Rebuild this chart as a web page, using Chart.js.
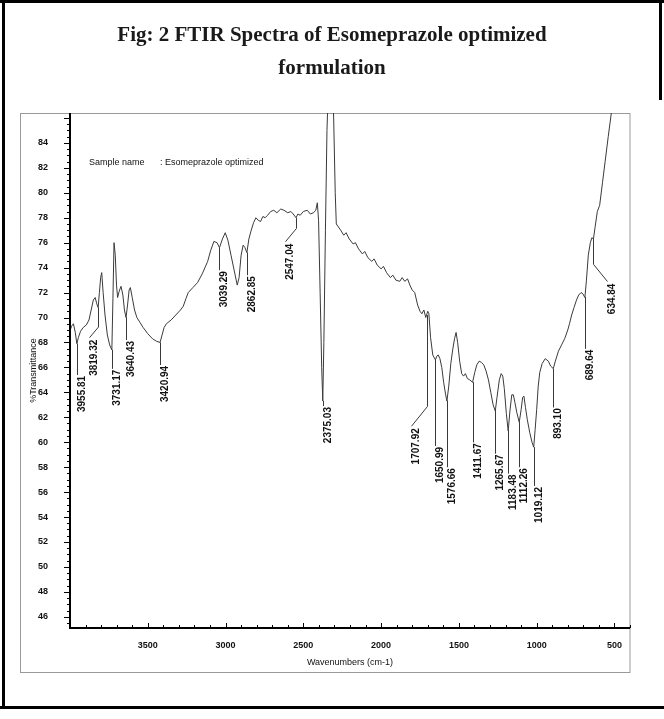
<!DOCTYPE html>
<html>
<head>
<meta charset="utf-8">
<script src="https://cdn.jsdelivr.net/npm/chart.js@4.4.1/dist/chart.umd.min.js"></script>
<style>
  html, body { margin: 0; padding: 0; background: #fff; }
  #page { position: relative; width: 664px; height: 719px; overflow: hidden; }
  #ftirChart { position: absolute; left: 0; top: 0; }
  #title {
    position: absolute; left: 0; top: 18px; width: 664px; text-align: center;
    font: bold 21px 'Liberation Serif', 'Times New Roman', serif; line-height: 33px; color: #1a1a1a;
  }
  .rule { position: absolute; background: #000; }
</style>
</head>
<body>
<div id="page">
  <canvas id="ftirChart" width="664" height="719"></canvas>
  <div id="title">Fig: 2 FTIR Spectra of Esomeprazole optimized<br>formulation</div>
  <div class="rule" style="left:0;top:0;width:664px;height:3px"></div>
  <div class="rule" style="left:2px;top:0;width:3px;height:709px"></div>
  <div class="rule" style="left:659px;top:0;width:3px;height:100px"></div>
  <div class="rule" style="left:0;top:706px;width:664px;height:3px"></div>
</div>
<script>
// spectrum (cm-1 -> %T)
const wavenumbers = [
  3998, 3990, 3978, 3966, 3956, 3946, 3932, 3915, 3895, 3878, 3864, 3850, 3838, 3828, 3819, 3811,
  3803, 3796, 3787, 3775, 3760, 3745, 3731, 3724, 3717, 3709, 3701, 3694, 3684, 3672, 3660, 3650,
  3640, 3630, 3620, 3612, 3600, 3585, 3570, 3550, 3530, 3500, 3470, 3445, 3421, 3408, 3395, 3380,
  3350, 3320, 3290, 3272, 3255, 3240, 3210, 3180, 3150, 3115, 3095, 3075, 3055, 3039, 3020, 3002,
  2985, 2965, 2945, 2925, 2913, 2900, 2887, 2875, 2863, 2850, 2835, 2820, 2805, 2790, 2775, 2760,
  2745, 2730, 2710, 2690, 2670, 2645, 2625, 2600, 2580, 2565, 2547, 2535, 2520, 2500, 2475, 2455,
  2435, 2420, 2410, 2402, 2392, 2382, 2375, 2368, 2358, 2348, 2335, 2318, 2305, 2295, 2288, 2260,
  2240, 2225, 2205, 2180, 2165, 2145, 2120, 2105, 2085, 2060, 2045, 2025, 2000, 1985, 1965, 1940,
  1925, 1905, 1880, 1865, 1848, 1830, 1815, 1800, 1784, 1765, 1750, 1738, 1725, 1713, 1700, 1693,
  1682, 1668, 1651, 1642, 1633, 1622, 1610, 1598, 1585, 1577, 1565, 1552, 1540, 1528, 1518, 1508,
  1495, 1482, 1470, 1458, 1445, 1430, 1412, 1398, 1385, 1370, 1355, 1340, 1325, 1310, 1295, 1280,
  1266, 1255, 1240, 1228, 1218, 1208, 1195, 1183, 1172, 1160, 1150, 1140, 1128, 1112, 1100, 1090,
  1082, 1072, 1060, 1045, 1030, 1019, 1010, 1000, 990, 980, 965, 945, 925, 910, 893, 880,
  860, 840, 820, 800, 789, 775, 760, 744, 730, 715, 703, 690, 680, 668, 655, 645,
  635, 625, 610, 595, 577, 560, 540, 519, 500
];
const transmittance = [
  69.0, 69.3, 69.5, 68.8, 67.9, 68.4, 68.9, 69.2, 69.4, 69.8, 70.6, 71.4, 71.6, 71.1, 70.8, 72.0,
  73.2, 73.6, 72.0, 70.2, 68.6, 67.8, 67.4, 71.5, 76.0, 75.0, 72.6, 71.6, 72.1, 72.5, 71.8, 70.6,
  70.0, 71.0, 72.2, 72.4, 71.6, 70.6, 70.0, 69.6, 69.2, 68.7, 68.3, 68.1, 68.0, 68.6, 69.2, 69.5,
  69.8, 70.2, 70.6, 70.9, 71.5, 72.0, 72.4, 72.8, 73.5, 74.5, 75.4, 76.1, 76.0, 75.6, 76.3, 76.8,
  76.2, 75.0, 73.8, 72.6, 73.2, 75.0, 75.8, 75.6, 75.2, 76.3, 77.0, 77.6, 78.0, 77.8, 77.7, 78.1,
  78.0, 78.2, 78.5, 78.6, 78.4, 78.7, 78.6, 78.4, 78.5, 78.3, 78.0, 78.3, 78.2, 78.5, 78.6, 78.3,
  78.4, 78.6, 79.2, 77.8, 72.0, 66.0, 63.3, 68.0, 77.0, 85.0, 90.0, 90.0, 86.0, 80.0, 77.5, 77.0,
  76.6, 76.8, 76.3, 75.9, 76.0, 75.5, 75.1, 75.3, 74.8, 74.5, 74.7, 74.2, 73.9, 74.1, 73.6, 73.2,
  73.4, 73.0, 72.9, 73.2, 72.9, 73.1, 72.6, 72.2, 72.0, 71.0, 70.5, 70.3, 70.6, 70.0, 70.5, 70.3,
  68.4, 67.0, 66.6, 66.9, 67.0, 66.7, 66.0, 64.8, 63.8, 63.3, 64.5, 66.3, 67.4, 68.3, 68.8, 68.0,
  66.5, 65.5, 65.3, 65.5, 65.1, 65.0, 64.8, 65.6, 66.2, 66.5, 66.4, 66.2, 65.7, 65.0, 64.0, 63.0,
  62.5, 63.6, 65.0, 65.5, 65.3, 64.3, 62.3, 60.9, 62.5, 63.8, 63.8, 63.2, 62.4, 61.6, 62.6, 63.6,
  63.7, 62.8, 61.8, 60.8, 60.0, 59.6, 61.0, 62.6, 64.5, 65.6, 66.3, 66.7, 66.5, 66.1, 65.9, 66.5,
  67.3, 67.8, 68.3, 69.0, 69.5, 70.2, 70.8, 71.4, 71.8, 72.0, 71.9, 71.6, 73.0, 75.0, 76.0, 76.4,
  76.3, 77.2, 78.5, 79.0, 80.8, 82.5, 84.5, 86.5, 88.5
];

// picked peaks: where the leader starts, where its text sits and how high the text reaches
const peakWavenumbers = [3955.81, 3819.32, 3731.17, 3640.43, 3420.94, 3039.29, 2862.85, 2547.04, 2375.03, 1707.92,
  1650.99, 1576.66, 1411.67, 1265.67, 1183.48, 1112.26, 1019.12, 893.10, 689.64, 634.84];
const peakLabelAt = [3955.81, 3875, 3731.17, 3640.43, 3420.94, 3039.29, 2862.85, 2619, 2375.03, 1810,
  1650.99, 1576.66, 1411.67, 1265.67, 1183.48, 1112.26, 1019.12, 893.10, 689.64, 545];
const peakLabelTop = [65.4, 68.3, 65.9, 68.2, 66.2, 73.8, 73.4, 76.0, 62.9, 61.2,
  59.7, 58.0, 60.0, 59.1, 57.5, 58.0, 56.5, 62.8, 67.5, 72.8];

const xTicks = [3500, 3000, 2500, 2000, 1500, 1000, 500];
const yTicks = [46, 48, 50, 52, 54, 56, 58, 60, 62, 64, 66, 68, 70, 72, 74, 76, 78, 80, 82, 84];

const sampleName = 'Esomeprazole optimized';
const xLabel = 'Wavenumbers (cm-1)';
const yLabel = '%Transmittance';

const INK = '#3a3a3a';
const TXT = '#111';
const SANS = '"Liberation Sans", Arial, sans-serif';

function curveAt(wn) {
  for (let i = 0; i < wavenumbers.length - 1; i++) {
    const a = wavenumbers[i], b = wavenumbers[i + 1];
    if (wn <= a && wn >= b) {
      const t = (a - wn) / (a - b);
      return transmittance[i] + t * (transmittance[i + 1] - transmittance[i]);
    }
  }
  return transmittance[transmittance.length - 1];
}

const ftirExtras = {
  id: 'ftirExtras',
  beforeDraw(chart) {
    const { ctx, chartArea: a } = chart;
    ctx.save();
    ctx.strokeStyle = '#9a9a9a';
    ctx.lineWidth = 1;
    ctx.strokeRect(20.5, a.top + 0.5, a.right - 20.5, 672 - a.top);
    ctx.restore();
  },
  afterDatasetsDraw(chart) {
    const { ctx, chartArea: a, scales: { x, y } } = chart;
    ctx.save();

    // axes
    ctx.strokeStyle = '#000';
    ctx.lineWidth = 2;
    ctx.beginPath();
    ctx.moveTo(a.left, a.top);
    ctx.lineTo(a.left, a.bottom);
    ctx.lineTo(a.right, a.bottom);
    ctx.stroke();

    // minor + major tick marks (labels come from chart.js)
    ctx.lineWidth = 1;
    for (let k = 91; k <= 172; k++) {
      const py = Math.round(y.getPixelForValue(k / 2)) + 0.5;
      const major = k % 4 === 0;
      ctx.beginPath();
      ctx.moveTo(a.left - (major ? 6 : 3), py);
      ctx.lineTo(a.left + 1, py);
      ctx.stroke();
    }
    for (let wn = 400; wn <= 4000; wn += 100) {
      const px = Math.round(x.getPixelForValue(wn)) + 0.5;
      const major = wn % 500 === 0;
      ctx.beginPath();
      ctx.moveTo(px, a.bottom);
      ctx.lineTo(px, a.bottom - (major ? 5 : 3));
      ctx.stroke();
    }

    // sample name
    ctx.fillStyle = TXT;
    ctx.font = '9px ' + SANS;
    ctx.textBaseline = 'middle';
    ctx.textAlign = 'left';
    ctx.fillText('Sample name', 89, 163);
    ctx.fillText(': ' + sampleName, 160, 163);

    // peak leaders and labels
    ctx.strokeStyle = INK;
    ctx.font = 'bold 10px ' + SANS;
    peakWavenumbers.forEach((wn, i) => {
      const px = Math.round(x.getPixelForValue(wn)) + 0.5;
      const py = y.getPixelForValue(curveAt(wn));
      const lx = Math.round(x.getPixelForValue(peakLabelAt[i])) + 0.5;
      const ly = y.getPixelForValue(peakLabelTop[i]);
      const knee = ly - Math.abs(lx - px) * 1.3;
      ctx.beginPath();
      ctx.moveTo(px, py);
      ctx.lineTo(px, Math.max(py, knee));
      ctx.lineTo(lx, ly - 1);
      ctx.stroke();
      ctx.save();
      ctx.translate(lx - 0.5, ly + 1);
      ctx.rotate(-Math.PI / 2);
      ctx.textAlign = 'right';
      ctx.textBaseline = 'top';
      ctx.fillText(wn.toFixed(2), 0, 0);
      ctx.restore();
    });
    ctx.restore();
  }
};

new Chart(document.getElementById('ftirChart'), {
  type: 'line',
  data: {
    datasets: [{
      data: wavenumbers.map((wn, i) => ({ x: wn, y: transmittance[i] })),
      borderColor: INK,
      borderWidth: 1,
      pointRadius: 0,
      tension: 0,
      fill: false
    }]
  },
  options: {
    responsive: false,
    animation: false,
    devicePixelRatio: 1,
    events: [],
    layout: { padding: { top: 113, right: 34, left: 0, bottom: 0 } },
    plugins: { legend: { display: false }, tooltip: { enabled: false } },
    scales: {
      x: {
        type: 'linear',
        reverse: true,
        min: 400,
        max: 4000,
        afterBuildTicks: s => { s.ticks = xTicks.map(v => ({ value: v })); },
        afterFit: s => { s.height = 91; },
        grid: { display: false },
        border: { display: false },
        ticks: {
          autoSkip: false,
          maxRotation: 0,
          padding: 4,
          color: TXT,
          font: { family: SANS, size: 9, weight: 'bold' },
          callback: v => String(v)
        },
        title: {
          display: true,
          text: xLabel,
          color: TXT,
          font: { family: SANS, size: 9 },
          padding: { top: 0, bottom: 51 }
        }
      },
      y: {
        min: 45.1,
        max: 86.4,
        afterBuildTicks: s => { s.ticks = yTicks.map(v => ({ value: v })); },
        afterFit: s => { s.width = 70; },
        grid: { display: false },
        border: { display: false },
        ticks: {
          autoSkip: false,
          padding: 14,
          color: TXT,
          font: { family: SANS, size: 9, weight: 'bold' },
          callback: v => String(v)
        },
        title: {
          display: true,
          text: yLabel,
          color: TXT,
          font: { family: SANS, size: 9 },
          padding: { top: 28, bottom: 0 }
        }
      }
    }
  },
  plugins: [ftirExtras]
});
</script>
</body>
</html>
